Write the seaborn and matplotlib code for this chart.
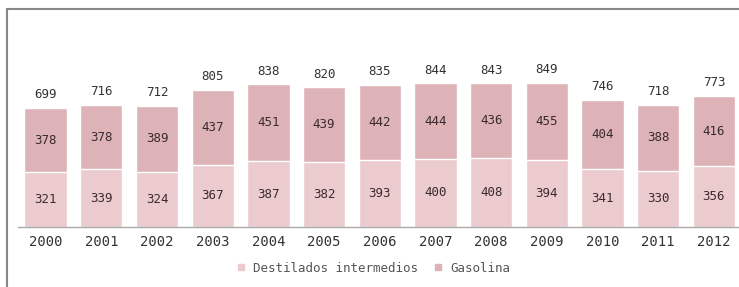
import numpy as np
import pandas as pd
import matplotlib
matplotlib.use("Agg")
import matplotlib.pyplot as plt
import seaborn as sns

# ── Data ───────────────────────────────────────────────────
years     = ["2000", "2001", "2002", "2003", "2004", "2005", "2006",
             "2007", "2008", "2009", "2010", "2011", "2012"]
destilados = [321, 339, 324, 367, 387, 382, 393, 400, 408, 394, 341, 330, 356]
gasolina   = [378, 378, 389, 437, 451, 439, 442, 444, 436, 455, 404, 388, 416]
totals     = [699, 716, 712, 805, 838, 820, 835, 844, 843, 849, 746, 718, 773]

C_DEST = "#eccbce"
C_GAS  = "#ddb3b8"
FONT   = "DejaVu Sans Mono"

df = pd.DataFrame({"year": years, "dest": destilados, "gas": gasolina})
df["stack"] = df["dest"] + df["gas"]

sns.set_style("white")
plt.rcParams["font.family"] = [FONT, "DejaVu Sans"]

fig = plt.figure(figsize=(7.39, 2.87), dpi=100)
ax = fig.add_axes([0.024, 0.209, 0.976, 0.652])

# top segment drawn as full stack, bottom segment drawn over it
sns.barplot(data=df, x="year", y="stack", color=C_GAS, width=0.76,
            saturation=1, ax=ax, label="Gasolina")
sns.barplot(data=df, x="year", y="dest", color=C_DEST, width=0.76,
            saturation=1, ax=ax, label="Destilados intermedios")

for i in range(len(years)):
    ax.text(i, destilados[i] / 2, str(destilados[i]), ha="center", va="center",
            fontsize=9, color="#3a2a2e")
    ax.text(i, destilados[i] + gasolina[i] / 2, str(gasolina[i]), ha="center",
            va="center", fontsize=9, color="#3a2a2e")
    ax.text(i, df["stack"][i] + 40, str(totals[i]), ha="center", va="bottom",
            fontsize=9, color="#333333")

ax.set_xlim(-0.5, 12.45)
ax.set_ylim(0, 1100)
ax.set_xlabel(""); ax.set_ylabel("")
ax.set_yticks([])
ax.tick_params(axis="x", length=0, labelsize=10, colors="#333333", pad=6)
for s in ["top", "right", "left"]:
    ax.spines[s].set_visible(False)
ax.spines["bottom"].set_color("#aaaaaa")
ax.spines["bottom"].set_linewidth(1.0)

handles, labels = ax.get_legend_handles_labels()
order = [labels.index("Destilados intermedios"), labels.index("Gasolina")]
leg = fig.legend([plt.Line2D([], [], marker="s", ls="", color=C_DEST, markersize=5),
                  plt.Line2D([], [], marker="s", ls="", color=C_GAS, markersize=5)],
                 ["Destilados intermedios", "Gasolina"],
                 loc="center", bbox_to_anchor=(0.5, 0.065), ncol=2, frameon=False,
                 fontsize=9, handletextpad=0.0, columnspacing=0.6)
for t in leg.get_texts():
    t.set_color("#555555")
if ax.get_legend() is not None:
    ax.get_legend().remove()

# outer frame (top and left edges visible)
fig.add_artist(plt.Line2D([0.0095, 0.0095], [0.0, 0.968], color="#888888", lw=1.5,
                          transform=fig.transFigure))
fig.add_artist(plt.Line2D([0.0095, 1.0], [0.968, 0.968], color="#888888", lw=1.5,
                          transform=fig.transFigure))

fig.savefig("out.png", dpi=100)
plt.close()
